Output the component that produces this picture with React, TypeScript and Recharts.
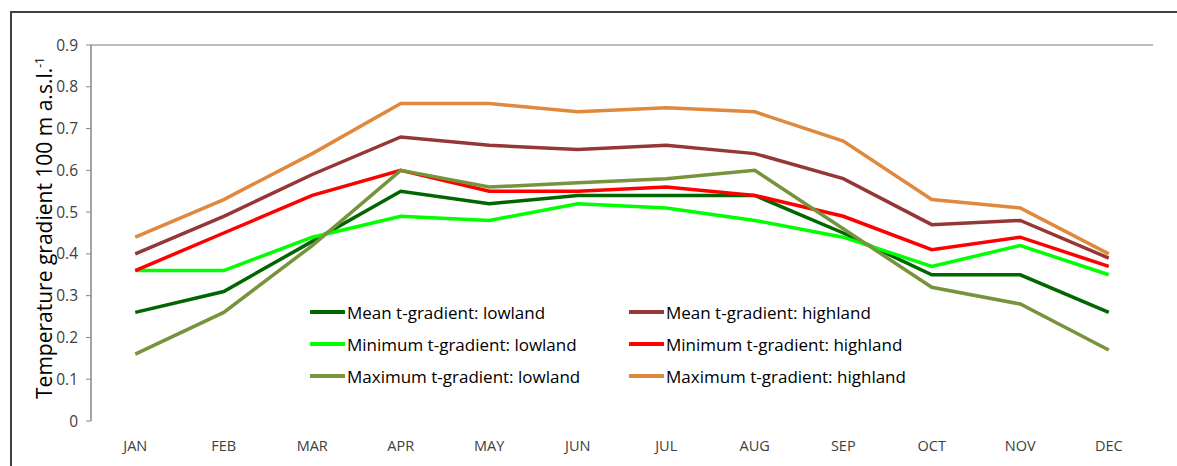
import React from "react";
import {
  LineChart,
  Line,
  XAxis,
  YAxis,
  Legend,
  ReferenceLine,
} from "recharts";

const months = ["JAN", "FEB", "MAR", "APR", "MAY", "JUN", "JUL", "AUG", "SEP", "OCT", "NOV", "DEC"];
const meanLowland = [0.26, 0.31, 0.43, 0.55, 0.52, 0.54, 0.54, 0.54, 0.45, 0.35, 0.35, 0.26];
const meanHighland = [0.4, 0.49, 0.59, 0.68, 0.66, 0.65, 0.66, 0.64, 0.58, 0.47, 0.48, 0.39];
const minLowland = [0.36, 0.36, 0.44, 0.49, 0.48, 0.52, 0.51, 0.48, 0.44, 0.37, 0.42, 0.35];
const minHighland = [0.36, 0.45, 0.54, 0.6, 0.55, 0.55, 0.56, 0.54, 0.49, 0.41, 0.44, 0.37];
const maxLowland = [0.16, 0.26, 0.42, 0.6, 0.56, 0.57, 0.58, 0.6, 0.46, 0.32, 0.28, 0.17];
const maxHighland = [0.44, 0.53, 0.64, 0.76, 0.76, 0.74, 0.75, 0.74, 0.67, 0.53, 0.51, 0.4];
const yTicks = [0, 0.1, 0.2, 0.3, 0.4, 0.5, 0.6, 0.7, 0.8, 0.9];

const series = [
  { key: "meanLow", name: "Mean t-gradient: lowland", color: "#006600", values: meanLowland },
  { key: "meanHigh", name: "Mean t-gradient: highland", color: "#953735", values: meanHighland },
  { key: "minLow", name: "Minimum t-gradient: lowland", color: "#00ff00", values: minLowland },
  { key: "minHigh", name: "Minimum t-gradient: highland", color: "#ff0000", values: minHighland },
  { key: "maxLow", name: "Maximum t-gradient: lowland", color: "#77933c", values: maxLowland },
  { key: "maxHigh", name: "Maximum t-gradient: highland", color: "#e0883e", values: maxHighland },
];

const data = months.map((month, i) => {
  const row: Record<string, number | string> = { x: i + 0.5, month };
  series.forEach((s) => {
    row[s.key] = s.values[i];
  });
  return row;
});

const font = "'Open Sans', sans-serif";

const LegendGrid = () => (
  <div
    style={{
      display: "grid",
      gridTemplateColumns: "319px 300px",
      gridAutoRows: "32px",
      fontFamily: font,
      fontSize: 17,
      color: "#000",
    }}
  >
    {series.map((s) => (
      <div key={s.key} style={{ display: "flex", alignItems: "center" }}>
        <svg width={35} height={6} style={{ marginRight: 2 }}>
          <line x1={1} y1={3} x2={34} y2={3} stroke={s.color} strokeWidth={4} strokeLinecap="round" />
        </svg>
        <span>{s.name}</span>
      </div>
    ))}
  </div>
);

export default function App() {
  return (
    <div
      style={{
        position: "fixed",
        left: 0,
        top: 0,
        width: 1177,
        height: 466,
        background: "#fff",
        overflow: "hidden",
      }}
    >
      <div
        style={{
          position: "absolute",
          left: 10,
          top: 11,
          width: 1200,
          height: 500,
          borderLeft: "2px solid #404040",
          borderTop: "2px solid #404040",
        }}
      />
      <div
        style={{
          position: "absolute",
          left: 40 - 220,
          top: 228 - 14,
          width: 440,
          height: 28,
          lineHeight: "28px",
          textAlign: "center",
          transform: "rotate(-90deg)",
          fontFamily: font,
          fontSize: 21,
          color: "#000",
        }}
      >
        Temperature gradient 100 m a.s.l.<sup style={{ fontSize: 12 }}>-1</sup>
      </div>
      <LineChart
        width={1177}
        height={466}
        data={data}
        margin={{ top: 45, right: 24, left: 31, bottom: 5 }}
        style={{ position: "absolute", left: 0, top: 0 }}
      >
        <XAxis
          xAxisId="grid"
          type="number"
          dataKey="x"
          domain={[0, 12]}
          ticks={[0, 1, 2, 3, 4, 5, 6, 7, 8, 9, 10, 11, 12]}
          tick={false}
          tickSize={5}
          height={0}
          axisLine={{ stroke: "#868686", strokeWidth: 1.5 }}
          tickLine={{ stroke: "#868686" }}
        />
        <XAxis
          xAxisId="lbl"
          type="number"
          dataKey="x"
          domain={[0, 12]}
          ticks={data.map((d) => d.x as number)}
          tickFormatter={(v: number) => months[Math.floor(v)]}
          axisLine={false}
          tickLine={false}
          tickSize={6}
          tickMargin={14}
          height={40}
          tick={{ fontFamily: font, fontSize: 14.5, fill: "#404040" }}
        />
        <YAxis
          yAxisId="left"
          type="number"
          domain={[0, 0.9]}
          ticks={yTicks}
          interval={0}
          width={60}
          tickSize={5}
          tickMargin={8}
          tickFormatter={(v: number) => (v === 0 ? "0" : v.toFixed(1))}
          axisLine={{ stroke: "#868686", strokeWidth: 1.5 }}
          tickLine={{ stroke: "#868686" }}
          tick={{ fontFamily: font, fontSize: 15.5, fill: "#404040" }}
        />
        <YAxis
          yAxisId="right"
          orientation="right"
          domain={[0, 0.9]}
          width={0}
          tick={false}
          tickLine={false}
          axisLine={{ stroke: "#404040", strokeWidth: 1.5 }}
        />
        <ReferenceLine xAxisId="grid" yAxisId="left" y={0.9} stroke="#a6a6a6" strokeWidth={1.5} />
        <Legend
          layout="vertical"
          align="center"
          verticalAlign="middle"
          content={<LegendGrid />}
          wrapperStyle={{ left: 310, top: 296, width: 640 }}
        />
        {series.map((s) => (
          <Line
            key={s.key}
            xAxisId="grid"
            yAxisId="left"
            dataKey={s.key}
            name={s.name}
            stroke={s.color}
            strokeWidth={3.5}
            dot={false}
            activeDot={false}
            isAnimationActive={false}
          />
        ))}
      </LineChart>
    </div>
  );
}
